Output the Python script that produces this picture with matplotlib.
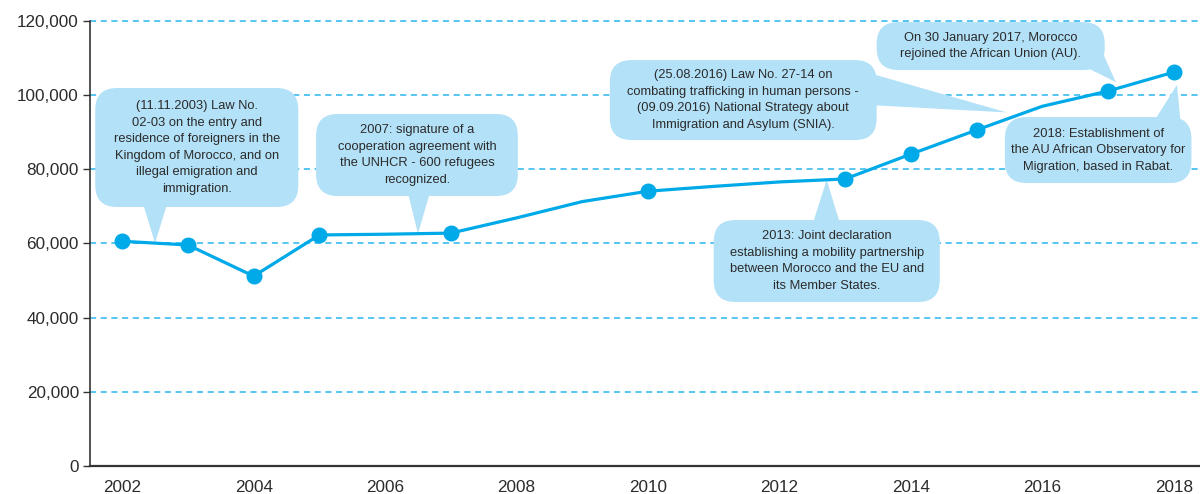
import numpy as np
import matplotlib
matplotlib.use("Agg")
import matplotlib.pyplot as plt
from matplotlib.patches import FancyBboxPatch, Polygon
from matplotlib.ticker import FuncFormatter

plt.rcParams["font.family"] = ["Liberation Sans", "DejaVu Sans"]

# data (unmarked years are bends in the line)
years = [2002, 2003, 2004, 2005, 2006, 2007, 2008, 2009, 2010,
         2011, 2012, 2013, 2014, 2015, 2016, 2017, 2018]
values = [60600, 59600, 51200, 62300, 62500, 62800, 66900, 71300, 74100,
          75400, 76600, 77400, 84100, 90600, 97000, 101100, 106200]
marked_years = [2002, 2003, 2004, 2005, 2007, 2010, 2013, 2014, 2015, 2017, 2018]

x_ticks = [2002, 2004, 2006, 2008, 2010, 2012, 2014, 2016, 2018]
y_ticks = [0, 20000, 40000, 60000, 80000, 100000, 120000]

LINE = "#00a9e8"
BOX = "#b3e1f7"
GRID = "#29b6ec"
TEXT = "#2b2b2b"

# callouts: text, box (x0, x1, y0, y1), pointer base points, pointer tip year, tip offset
callouts = [
    ("(11.11.2003) Law No.\n02-03 on the entry and\nresidence of foreigners in the\n"
     "Kingdom of Morocco, and on\nillegal emigration and\nimmigration.",
     (2001.59, 2004.68, 69840, 101930), [(2002.32, 70500), (2002.68, 70500)], 2002.5, 0),
    ("2007: signature of a\ncooperation agreement with\nthe UNHCR - 600 refugees\nrecognized.",
     (2004.95, 2008.02, 72800, 94920), [(2006.35, 73500), (2006.68, 73500)], 2006.5, 0),
    ("(25.08.2016) Law No. 27-14 on\ncombating trafficking in human persons -\n"
     "(09.09.2016) National Strategy about\nImmigration and Asylum (SNIA).",
     (2009.42, 2013.48, 87890, 109460), [(2013.2, 106800), (2013.4, 97300)], 2015.46, 1800),
    ("On 30 January 2017, Morocco\nrejoined the African Union (AU).",
     (2013.48, 2016.95, 106770, 119700), [(2016.68, 107400), (2016.9, 112200)], 2017.12, 1800),
    ("2018: Establishment of\nthe AU African Observatory for\nMigration, based in Rabat.",
     (2015.43, 2018.27, 76300, 94100), [(2017.72, 93500), (2018.1, 93500)], 2018.05, -3400),
    ("2013: Joint declaration\nestablishing a mobility partnership\nbetween Morocco and the EU and\n"
     "its Member States.",
     (2011.0, 2014.44, 44220, 66330), [(2012.51, 65500), (2012.92, 65500)], 2012.72, 0),
]

fig = plt.figure(figsize=(12, 4.94), dpi=100)
ax = fig.add_axes([0.075, 0.0567, 0.925, 0.9008])

ax.set_xlim(2001.51, 2018.4)
ax.set_ylim(0, 120000)

for y in y_ticks[1:]:
    ax.axhline(y, color=GRID, lw=1.1, ls=(0, (4, 3)), zorder=1, clip_on=False)

ax.plot(years, values, color=LINE, lw=2.3, zorder=5, solid_joinstyle="round")
marked_values = [values[years.index(y)] for y in marked_years]
ax.plot(marked_years, marked_values, "o", color=LINE, ms=10.5, zorder=6)

# aspect of data units so the rounded corners come out round in pixels
px_per_year = 65.75
px_per_unit = 74.17 / 20000
aspect = (1 / px_per_unit) / (1 / px_per_year)

for text, (x0, x1, y0, y1), base, tip_year, tip_off in callouts:
    box = FancyBboxPatch((x0, y0), x1 - x0, y1 - y0,
                         boxstyle="round,pad=0,rounding_size=0.33",
                         mutation_aspect=aspect, fc=BOX, ec="none", zorder=3)
    ax.add_patch(box)
    tip = (tip_year, np.interp(tip_year, years, values) + tip_off)
    ax.add_patch(Polygon([base[0], base[1], tip], closed=True, fc=BOX, ec="none", zorder=3))
    ax.text((x0 + x1) / 2, (y0 + y1) / 2, text, ha="center", va="center",
            fontsize=9.3, color=TEXT, linespacing=1.5, zorder=4)

ax.set_xticks(x_ticks)
ax.set_yticks(y_ticks)
ax.yaxis.set_major_formatter(FuncFormatter(lambda v, p: f"{int(v):,}"))
ax.tick_params(axis="x", length=0, pad=10, labelsize=12.3, labelcolor=TEXT)
ax.tick_params(axis="y", length=5, width=1, pad=3, labelsize=12.3, labelcolor=TEXT, color="#333333")

for side in ["top", "right"]:
    ax.spines[side].set_visible(False)
ax.spines["left"].set_color("#333333")
ax.spines["left"].set_linewidth(1.2)
ax.spines["bottom"].set_color("#333333")
ax.spines["bottom"].set_linewidth(1.6)

fig.savefig("out.png", dpi=100)
